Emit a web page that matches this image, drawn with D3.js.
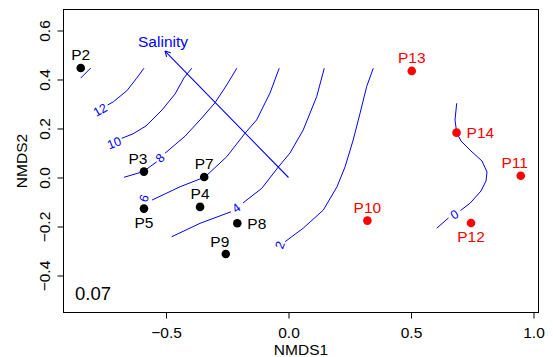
<!DOCTYPE html>
<head>
<meta charset='utf-8'>
<style>
  body { margin: 0; background: #fff; font-family: 'Liberation Sans', Arial, sans-serif; }
  .lab { font-size: 15.5px; }
  .clab { font-size: 12.5px; fill: blue; }
</style>
</head>
<body>
<div id='vis'></div>
<script src='https://d3js.org/d3.v7.min.js'></script>
<script>
  // sites and NMDS scores
  const sites = ['P2','P3','P4','P5','P7','P8','P9','P10','P11','P12','P13','P14']
  const nmds1 = [-0.848,-0.590,-0.361,-0.590,-0.344,-0.209,-0.256,0.322,0.948,0.745,0.503,0.686]
  const nmds2 = [0.447,0.024,-0.120,-0.127,0.002,-0.187,-0.312,-0.176,0.007,-0.186,0.435,0.183]
  const group = ['a','a','a','a','a','a','a','b','b','b','b','b']
  const labelPos = ['top','topleft','top','bottom','top','right','topleft','top','topleft','bottom','top','right']

  // envfit vector
  const salinity = [-0.504, 0.516]
  const stress = '0.07'

  // ordisurf contour lines (each level = segments, label between)
  const contourLevels = ['14','12','10','8','6','4','2','0']
  const contourSegs = [
    [[[-0.848,0.406],[-0.807,0.447]]],
    [[[-0.738,0.296],[-0.715,0.309],[-0.660,0.354],[-0.620,0.405],[-0.590,0.446]]],
    [[[-0.681,0.160],[-0.635,0.178],[-0.582,0.210],[-0.516,0.276],[-0.463,0.341],[-0.427,0.406],[-0.395,0.446]]],
    [[[-0.211,0.446],[-0.252,0.378],[-0.300,0.305],[-0.361,0.235],[-0.422,0.169],[-0.504,0.099]],
     [[-0.538,0.064],[-0.593,0.024],[-0.671,0.001]]],
    [[[-0.038,0.446],[-0.0755,0.345],[-0.130,0.235],[-0.178,0.180],[-0.252,0.085],[-0.341,0.002],[-0.443,-0.038],[-0.557,-0.092]]],
    [[[0.146,0.446],[0.115,0.330],[0.060,0.194],[0.006,0.100],[-0.043,0.041],[-0.109,-0.044],[-0.186,-0.104]],
     [[-0.235,-0.140],[-0.361,-0.187],[-0.477,-0.242]]],
    [[[0.346,0.446],[0.319,0.371],[0.292,0.262],[0.264,0.153],[0.231,0.044],[0.198,-0.038],[0.142,-0.133],[0.060,-0.207],[-0.014,-0.262]]],
    [[[0.6865,0.3029],[0.6796,0.2347],[0.6865,0.1829],[0.7041,0.1490],[0.7449,0.1082],[0.7898,0.0673],[0.8102,0.0224],[0.8061,-0.0143],[0.7857,-0.0551],[0.7408,-0.1053],[0.7020,-0.1347]],
     [[0.653,-0.165],[0.605,-0.207]]]
  ]
  const contourLabelXY = [null,[-0.769,0.276],[-0.712,0.141],[-0.524,0.080],[-0.590,-0.085],[-0.213,-0.124],[-0.035,-0.276],[0.677,-0.151]]

  const W = 553, H = 357
  const margin = {top: 9.5, right: 14.5, bottom: 44.5, left: 63.5}

  const x = d3.scaleLinear().domain([-0.9184, 1.0204]).range([margin.left, W - margin.right])
  const y = d3.scaleLinear().domain([-0.551, 0.6857]).range([H - margin.bottom, margin.top])

  const svg = d3.select('#vis').append('svg')
    .attr('width', W).attr('height', H)

  // axes
  const fmt = d => (d < 0 ? '\u2212' : '') + d3.format('.1f')(Math.abs(d))

  const xAxis = svg.append('g')
    .attr('transform', `translate(0,${H - margin.bottom})`)
    .call(d3.axisBottom(x).tickValues([-0.5, 0, 0.5, 1]).tickSize(6).tickFormat(fmt))
  xAxis.select('.domain').remove()
  xAxis.selectAll('text').attr('y', 25.8).attr('dy', 0)
    .style('font-size', '15.5px').style('font-family', 'Liberation Sans, Arial, sans-serif').attr('fill', '#000')

  const yAxis = svg.append('g')
    .attr('transform', `translate(${margin.left},0)`)
    .call(d3.axisLeft(y).tickValues([-0.4, -0.2, 0, 0.2, 0.4, 0.6]).tickSize(6).tickFormat(fmt))
  yAxis.select('.domain').remove()
  yAxis.selectAll('text')
    .attr('transform', 'rotate(-90)')
    .attr('x', 0).attr('y', -13.5).attr('dy', 0)
    .attr('text-anchor', 'middle')
    .style('font-size', '15.5px').style('font-family', 'Liberation Sans, Arial, sans-serif').attr('fill', '#000')

  // box
  svg.append('rect')
    .attr('x', margin.left).attr('y', margin.top)
    .attr('width', W - margin.left - margin.right)
    .attr('height', H - margin.top - margin.bottom)
    .attr('fill', 'none').attr('stroke', '#000')

  svg.append('text').attr('class', 'lab')
    .attr('x', (margin.left + W - margin.right) / 2).attr('y', 354.5)
    .attr('text-anchor', 'middle').text('NMDS1')
  svg.append('text').attr('class', 'lab')
    .attr('transform', `translate(27.3,${(margin.top + H - margin.bottom) / 2}) rotate(-90)`)
    .attr('text-anchor', 'middle').text('NMDS2')

  // contours
  const line = d3.line().x(d => x(d[0])).y(d => y(d[1]))
  const surf = svg.append('g').attr('class', 'surf')
  contourSegs.forEach((segs, i) => {
    segs.forEach(s => {
      surf.append('path').attr('d', line(s))
        .attr('fill', 'none').attr('stroke', 'blue').attr('stroke-width', 1)
    })
    const lp = contourLabelXY[i]
    if (!lp) return
    // angle from the line near the label
    let a, b
    if (segs.length > 1) { a = segs[0][segs[0].length - 1]; b = segs[1][0] }
    else { a = segs[0][0]; b = segs[0][1] }
    const ang = Math.atan((y(b[1]) - y(a[1])) / (x(b[0]) - x(a[0]))) * 180 / Math.PI
    surf.append('text').attr('class', 'clab')
      .attr('transform', `translate(${x(lp[0])},${y(lp[1])}) rotate(${ang})`)
      .attr('text-anchor', 'middle').attr('dy', '0.35em')
      .text(contourLevels[i])
  })

  // salinity arrow
  const x0 = x(0), y0 = y(0), x1 = x(salinity[0]), y1 = y(salinity[1])
  svg.append('line')
    .attr('x1', x0).attr('y1', y0).attr('x2', x1).attr('y2', y1)
    .attr('stroke', 'blue').attr('stroke-width', 1.1)
  const th = Math.atan2(y1 - y0, x1 - x0)
  ;[-0.5, 0.5].forEach(o => {
    svg.append('line')
      .attr('x1', x1).attr('y1', y1)
      .attr('x2', x1 - 6 * Math.cos(th + o)).attr('y2', y1 - 6 * Math.sin(th + o))
      .attr('stroke', 'blue').attr('stroke-width', 1.1)
  })
  svg.append('text').attr('class', 'lab')
    .attr('x', x1 - 2).attr('y', y1 - 4)
    .attr('text-anchor', 'middle').attr('fill', 'blue').text('Salinity')

  // sites
  const colour = d3.scaleOrdinal().domain(['a', 'b']).range(['#000', 'red'])
  const place = {
    top: {dx: 0, dy: -13.5, anchor: 'middle'},
    topleft: {dx: -6, dy: -13, anchor: 'middle'},
    bottom: {dx: 0, dy: 13.8, anchor: 'middle'},
    right: {dx: 10, dy: 0, anchor: 'start'}
  }
  const pts = svg.append('g').selectAll('g').data(sites).join('g')
  pts.append('circle')
    .attr('cx', (d, i) => x(nmds1[i])).attr('cy', (d, i) => y(nmds2[i]))
    .attr('r', 4.3).attr('fill', (d, i) => colour(group[i]))
  pts.append('text').attr('class', 'lab')
    .attr('x', (d, i) => x(nmds1[i]) + place[labelPos[i]].dx)
    .attr('y', (d, i) => y(nmds2[i]) + place[labelPos[i]].dy)
    .attr('dy', '0.36em')
    .attr('text-anchor', (d, i) => place[labelPos[i]].anchor)
    .attr('fill', (d, i) => colour(group[i]))
    .text(d => d)

  svg.append('text')
    .attr('x', 75).attr('y', 300)
    .style('font-size', '18.5px')
    .text(stress)
</script>
</body>
